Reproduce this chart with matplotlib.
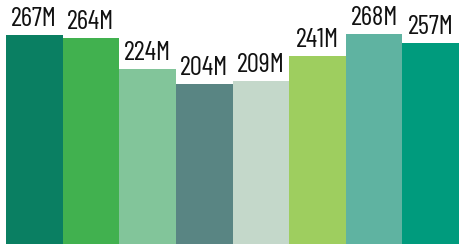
import matplotlib
matplotlib.use("Agg")
import matplotlib.pyplot as plt

values = [267, 264, 224, 204, 209, 241, 268, 257]
labels = ["267M", "264M", "224M", "204M", "209M", "241M", "268M", "257M"]
colors = ["#0A7F62", "#41B14F", "#82C59A", "#598583", "#C4D8CA", "#9ECE5F", "#5FB3A1", "#009B7D"]

W, H = 459, 246
fig = plt.figure(figsize=(W / 100, H / 100), dpi=100)
ax = fig.add_axes([6 / W, 2 / H, (W - 6) / W, 242 / H])
x = list(range(len(values)))
ax.bar(x, values, width=1.0, color=colors, linewidth=0)
for xi, v, lab in zip(x, values, labels):
    ax.annotate(lab, (xi, v), xytext=(0, 9 * 0.72), textcoords="offset points",
                ha="center", va="baseline", fontsize=19.5,
                family=["Barlow Condensed", "DejaVu Sans"], color="#111111")
ax.set_xlim(-0.5, len(values) - 0.5)
ax.set_ylim(0, 309.5)
ax.axis("off")
fig.savefig("out.png", dpi=100)
